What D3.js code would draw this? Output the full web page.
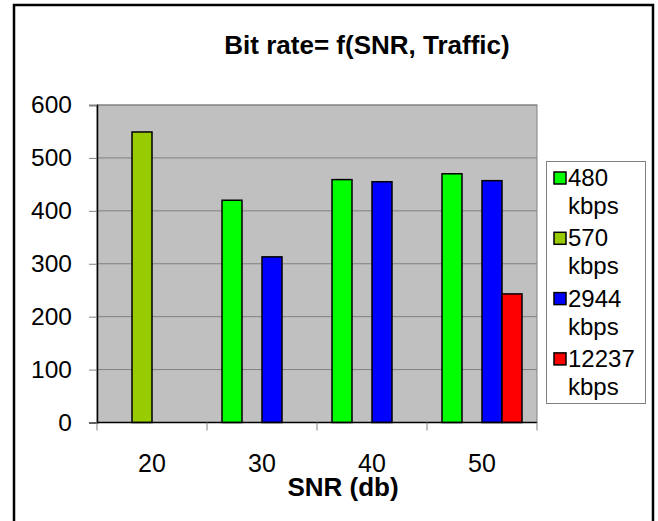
<!DOCTYPE html>
<html>
<head>
<meta charset="utf-8">
<script src="https://cdn.jsdelivr.net/npm/d3@7"></script>
<style>
  body { margin: 0; background: #fff; }
  svg text { font-family: Arial, "Liberation Sans", sans-serif; }
</style>
</head>
<body>
<svg id="chart" width="658" height="521"></svg>
<script>
// data
var snr = ["20", "30", "40", "50"];
var traffic = ["480", "570", "2944", "12237"];
var colors = ["#00ff00", "#99cc00", "#0000ff", "#ff0000"];
// null = no bar for that SNR
var rate480   = [null, 420, 459, 470];
var rate570   = [549, null, null, null];
var rate2944  = [null, 313, 455, 457];
var rate12237 = [null, null, null, 243];
var yTicks = [0, 100, 200, 300, 400, 500, 600];

var series = [rate480, rate570, rate2944, rate12237];

var svg = d3.select("#chart");

// outer frame
svg.append("rect")
    .attr("x", 14).attr("y", 5)
    .attr("width", 639).attr("height", 530)
    .attr("fill", "#fff")
    .attr("stroke", "#000")
    .attr("stroke-width", 2.5);

// plot box (note: "top" is taken by window.top)
var pLeft = 97, pRight = 537, pTop = 105, pBottom = 422.5;

var x0 = d3.scaleBand().domain(snr).range([pLeft, pRight]).padding(0);
var x1 = d3.scaleBand().domain(traffic).range([15, 95]).padding(0);
var y = d3.scaleLinear().domain([0, 600]).range([pBottom, pTop]);

// plot area
svg.append("rect")
    .attr("x", pLeft).attr("y", pTop)
    .attr("width", pRight - pLeft).attr("height", pBottom - pTop)
    .attr("fill", "#c0c0c0")
    .attr("stroke", "#808080")
    .attr("stroke-width", 1);

// gridlines
svg.append("g").selectAll("line")
    .data(yTicks.filter(function(d){ return d > 0; }))
    .enter().append("line")
    .attr("x1", pLeft).attr("x2", pRight)
    .attr("y1", function(d){ return y(d); })
    .attr("y2", function(d){ return y(d); })
    .attr("stroke", "#808080")
    .attr("stroke-width", 1);

// bars
var barData = [];
series.forEach(function(s, si){
    s.forEach(function(v, ci){
        if (v != null) barData.push({ snr: snr[ci], t: traffic[si], v: v, c: colors[si] });
    });
});

svg.append("g").selectAll("rect")
    .data(barData)
    .enter().append("rect")
    .attr("x", function(d){ return x0(d.snr) + x1(d.t); })
    .attr("y", function(d){ return y(d.v); })
    .attr("width", x1.bandwidth())
    .attr("height", function(d){ return pBottom - y(d.v); })
    .attr("fill", function(d){ return d.c; })
    .attr("stroke", "#000")
    .attr("stroke-width", 1.5);

// y axis
var yAxis = svg.append("g")
    .attr("transform", "translate(" + pLeft + ",0)")
    .call(d3.axisLeft(y).tickValues(yTicks).tickSize(8).tickPadding(17));
yAxis.select(".domain").attr("stroke", "#000").attr("stroke-width", 1.5);
yAxis.selectAll(".tick line").attr("stroke", "#808080");
yAxis.selectAll("text").attr("font-size", "24.5px").attr("fill", "#000")
    .attr("font-family", "Arial, 'Liberation Sans', sans-serif");

// x axis: ticks on band boundaries, labels in middle
var xAxis = svg.append("g").attr("transform", "translate(0," + pBottom + ")");
xAxis.append("line")
    .attr("x1", pLeft).attr("x2", pRight)
    .attr("stroke", "#000").attr("stroke-width", 1.5);
xAxis.selectAll("line.tk")
    .data(snr.concat(["end"]))
    .enter().append("line")
    .attr("class", "tk")
    .attr("x1", function(d, i){ return pLeft + i * x0.bandwidth(); })
    .attr("x2", function(d, i){ return pLeft + i * x0.bandwidth(); })
    .attr("y1", 0).attr("y2", 8)
    .attr("stroke", "#808080");
xAxis.selectAll("text")
    .data(snr)
    .enter().append("text")
    .attr("x", function(d){ return x0(d) + x0.bandwidth() / 2; })
    .attr("y", 49)
    .attr("text-anchor", "middle")
    .attr("font-size", "25px")
    .text(function(d){ return d; });

// titles
svg.append("text")
    .attr("x", 367).attr("y", 54)
    .attr("text-anchor", "middle")
    .attr("font-size", "26px")
    .attr("font-weight", "bold")
    .text("Bit rate= f(SNR, Traffic)");

svg.append("text")
    .attr("x", 343).attr("y", 496)
    .attr("text-anchor", "middle")
    .attr("font-size", "26px")
    .attr("font-weight", "bold")
    .text("SNR (db)");

// legend
var lg = svg.append("g");
lg.append("rect")
    .attr("x", 546.5).attr("y", 161.5)
    .attr("width", 99).attr("height", 242)
    .attr("fill", "#fff")
    .attr("stroke", "#808080");

var item = lg.selectAll("g.item")
    .data(traffic)
    .enter().append("g")
    .attr("class", "item")
    .attr("transform", function(d, i){ return "translate(0," + (i * 60.3) + ")"; });
item.append("rect")
    .attr("x", 554).attr("y", 172)
    .attr("width", 12).attr("height", 12)
    .attr("fill", function(d, i){ return colors[i]; })
    .attr("stroke", "#000")
    .attr("stroke-width", 1.5);
item.append("text")
    .attr("x", 568).attr("y", 186)
    .attr("font-size", "24px")
    .text(function(d){ return d; });
item.append("text")
    .attr("x", 568).attr("y", 214)
    .attr("font-size", "24px")
    .text("kbps");
</script>
</body>
</html>
